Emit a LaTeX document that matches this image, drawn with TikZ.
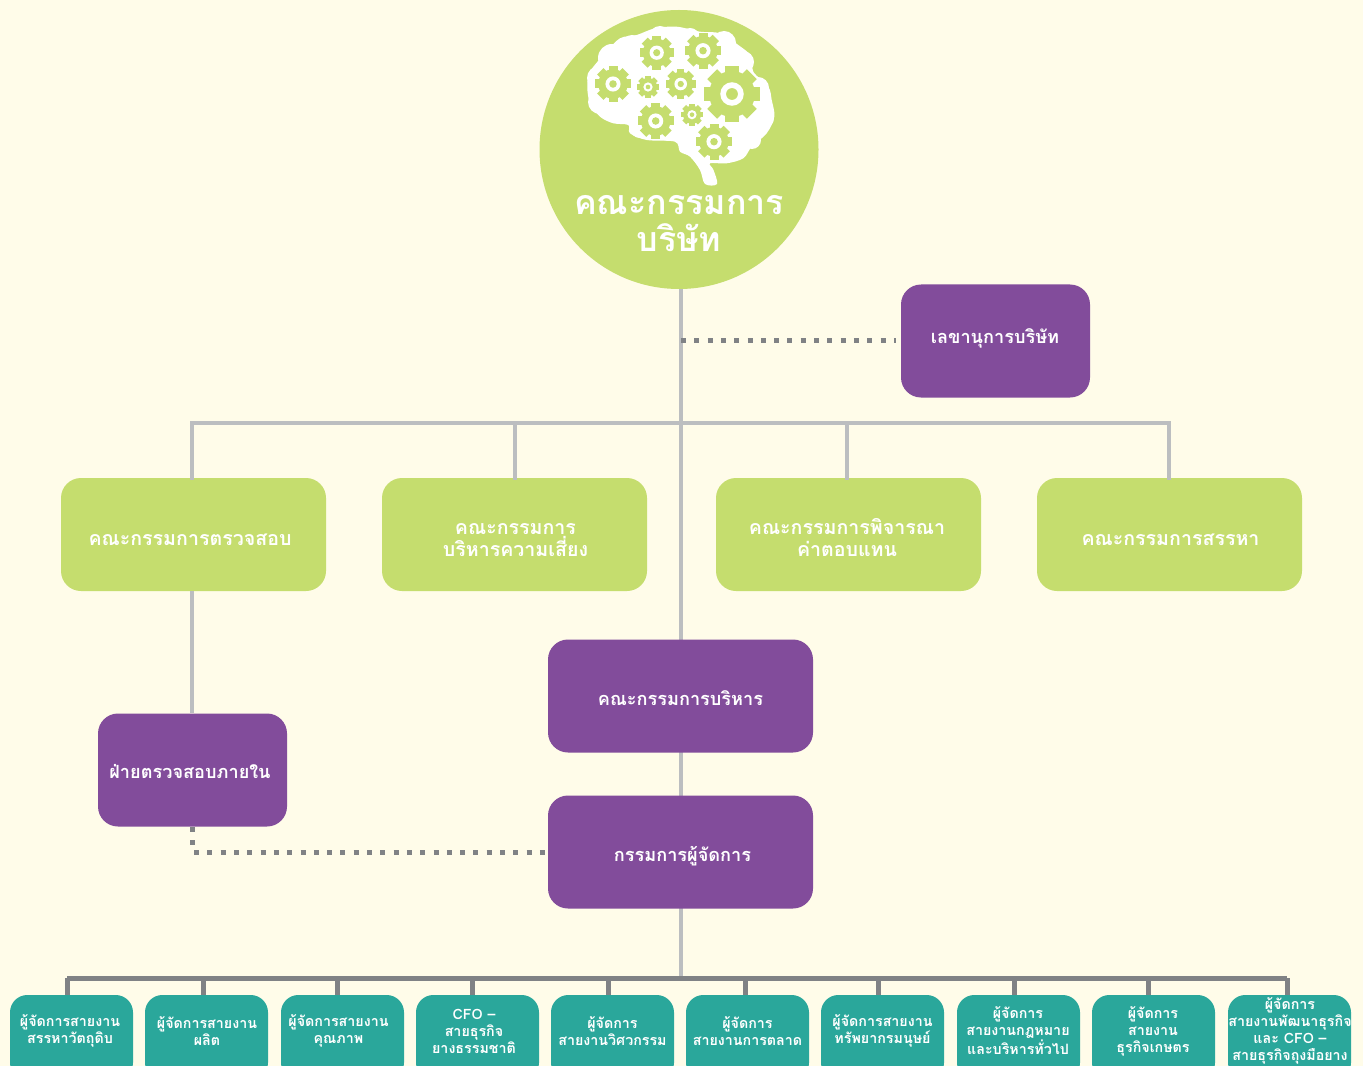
\documentclass[tikz,border=0pt]{standalone}
\usepackage{fontspec}
\setmainfont[Script=Thai]{Loma}
\definecolor{bgcream}{HTML}{FFFCE9}
\definecolor{boardgreen}{HTML}{C5DD6E}
\definecolor{execpurple}{HTML}{824C9B}
\definecolor{mgrteal}{HTML}{2AA79B}
\definecolor{lightwire}{HTML}{BCBEC0}
\definecolor{darkwire}{HTML}{808285}
\newcommand{\braingear}[3]{%
    \begin{scope}[shift={(#1,#2)}]
        \foreach \a in {0,45,...,135} {
            \fill[boardgreen,rotate=\a] (-.25*#3,-#3) rectangle (.25*#3,#3);
        }
        \fill[boardgreen] (0,0) circle (.82*#3);
        \fill[white] (0,0) circle (.42*#3);
        \fill[boardgreen] (0,0) circle (.21*#3);
    \end{scope}
}
\begin{document}
\begin{tikzpicture}[x=.75pt,y=-.75pt]

\def\px{.75pt}

\tikzset{
    every node/.style={text=white,align=center,inner sep=0pt},
    box/.style={rounded corners=15pt,minimum width=265*\px,minimum height=113*\px},
    green box/.style={box,fill=boardgreen},
    purple box/.style={box,fill=execpurple},
    small box/.style={purple box,minimum width=189*\px},
    teal box/.style={rounded corners=13pt,fill=mgrteal,minimum width=123*\px,minimum height=85*\px},
    green text/.style={font=\fontsize{14.7}{16.5}\selectfont\bfseries},
    purple text/.style={font=\fontsize{13.6}{16}\selectfont\bfseries},
    teal text/.style={font=\fontsize{10.7}{12.75}\selectfont\bfseries},
    trunk/.style={draw=lightwire,line width=4*\px},
    bus/.style={draw=darkwire,line width=5*\px},
    dots/.style={draw=darkwire,line width=5*\px,dash pattern=on 5*\px off 8.3*\px}
}

\useasboundingbox (0,0) rectangle (1363,1066);
\clip (0,0) rectangle (1363,1066);
\fill[bgcream] (0,0) rectangle (1363,1066);

\coordinate (board foot) at (681,289);
\coordinate (top bus) at (681,423);
\coordinate (low bus) at (681,978);
\coordinate (sec tap) at (681,340);
\coordinate (sec end) at (896,340);
\coordinate (audit bend) at (192.5,852);
\coordinate (audit end) at (192.5,827);
\coordinate (md end) at (548,852);
\coordinate (audit drop) at (192,480);
\coordinate (risk drop) at (515,480);
\coordinate (pay drop) at (847,480);
\coordinate (nomination drop) at (1169,480);

\node[green box] (audit) at (193.5,534.5) {};
\node[green box] (risk) at (514.5,534.5) {};
\node[green box] (pay) at (848.5,534.5) {};
\node[green box] (nomination) at (1169.5,534.5) {};
\node[small box] (internal) at (192.5,770) {};

% wires go first, boxes sit on top
\path[trunk] (board foot) -- (low bus);
\foreach \n in {audit,risk,pay,nomination} {
    \path[trunk] (top bus) -| (\n\space drop);
}
\path[trunk] (audit drop |- audit.south) -- (audit drop |- internal.north);
\path[dots] (sec tap) -- (sec end);
\path[dots] (audit end) -- (audit bend) -- (md end);

\path[bus] (67,978) -- (1287,978);
\foreach \x in {67,203,337,472,608,745,878,1014,1148,1287} {
    \coordinate (drop) at (\x,978);
    \path[bus] (drop) -- (\x,997);
}

% board circle with the brain
\node[circle,fill=boardgreen,minimum size=279*\px] (board) at (679,149.5) {};
\fill[white] plot[smooth cycle,tension=.55] coordinates {
    (705,184) (717,184) (713.5,170) (710,163.3) (726.7,163.3) (743.3,158.3) (751.7,146.7)
    (766.7,133.3) (774.3,116.7) (771.7,100) (768.3,86.7) (753.3,71.7) (751.7,56.7)
    (738.3,45) (720,33.3) (700,31.7) (676.7,26.7) (655,28.3) (636.7,35) (620,38.3)
    (605,53.3) (590,71.7) (587.3,86.7) (590,103.3) (600,116.7) (613.3,123.3) (628.3,125)
    (630,133.3) (646.7,140) (675,141.7) (680,151.7) (690,156.7) (700,170)};
\foreach \cx/\cy/\r in {612/58/14,632/45/10,660/37/11,690/38/10,724/43/12,743/62/11,758/88/11,763/118/11,752/140/9,730/153/9,599/78/12,600/102/12,640/128/10,668/132/9} {
    \fill[white] (\cx,\cy) circle (\r);
}
\braingear{656.7}{52.7}{17}
\braingear{703}{50.7}{18}
\braingear{613}{84}{18}
\braingear{648}{87}{11}
\braingear{680.7}{84}{15}
\braingear{732}{94}{28}
\braingear{655.7}{121}{18}
\braingear{692}{114.7}{11}
\braingear{714}{141.7}{18}
\node[font=\fontsize{25.5}{27.75}\selectfont\bfseries] (board text) at (679,224) {คณะกรรมการ\\บริษัท};

\node[green text] (audit text) at (190,539.5) {คณะกรรมการตรวจสอบ};
\node[green text] (risk text) at (515.5,540.5) {คณะกรรมการ\\บริหารความเสี่ยง};
\node[green text] (pay text) at (847,537.5) {คณะกรรมการพิจารณา\\ค่าตอบแทน};
\node[green text] (nomination text) at (1170.5,539.5) {คณะกรรมการสรรหา};

\node[small box] (secretary) at (995.5,341) {};
\node[purple box] (exec) at (680.5,696) {};
\node[purple box] (md) at (680.5,852) {};
\node[purple text] (secretary text) at (995,338) {เลขานุการบริษัท};
\node[purple text] (exec text) at (680.5,698) {คณะกรรมการบริหาร};
\node[purple text] (md text) at (682.5,856) {กรรมการผู้จัดการ};
\node[purple text] (internal text) at (190,772) {ฝ่ายตรวจสอบภายใน};

\foreach \n/\x/\tx/\t in {
    a/71.5/70/{ผู้จัดการสายงาน\\สรรหาวัตถุดิบ},
    b/206.5/207/{ผู้จัดการสายงาน\\ผลิต},
    c/342.5/338.5/{ผู้จัดการสายงาน\\คุณภาพ},
    d/477.5/474/{CFO --\\สายธุรกิจ\\ยางธรรมชาติ},
    e/612.5/612.5/{ผู้จัดการ\\สายงานวิศวกรรม},
    f/747.5/747.5/{ผู้จัดการ\\สายงานการตลาด},
    g/882.5/882.5/{ผู้จัดการสายงาน\\ทรัพยากรมนุษย์},
    h/1018.5/1018/{ผู้จัดการ\\สายงานกฎหมาย\\และบริหารทั่วไป},
    i/1153.5/1153/{ผู้จัดการ\\สายงาน\\ธุรกิจเกษตร},
    j/1289.5/1290/{ผู้จัดการ\\สายงานพัฒนาธุรกิจ\\และ CFO --\\สายธุรกิจถุงมือยาง}} {
    \node[teal box] (mgr \n) at (\x,1037.5) {};
    \node[teal text] (mgr \n\space text) at (\tx,1031) {\t};
}
\end{tikzpicture}
\end{document}
